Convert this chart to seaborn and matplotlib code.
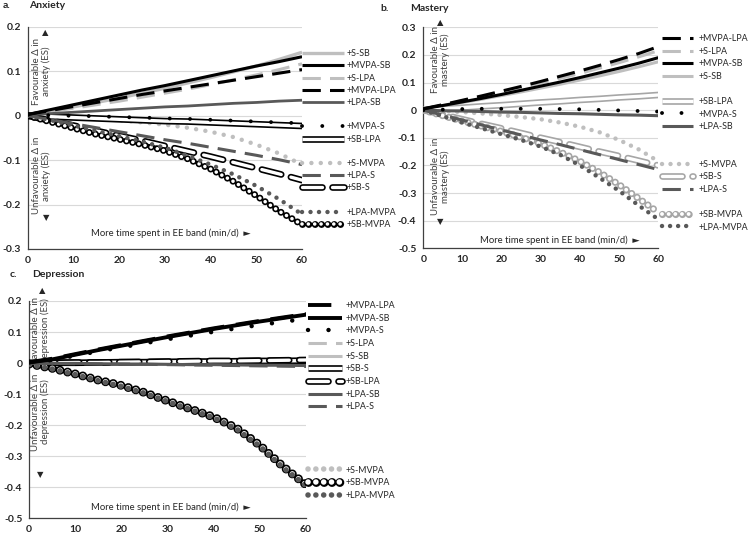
import matplotlib
matplotlib.use("Agg")
import matplotlib.pyplot as plt
import matplotlib.patheffects as pe
from matplotlib.lines import Line2D
import seaborn as sns

# minutes added to each EE band
minutes = [0, 5, 10, 15, 20, 25, 30, 35, 40, 45, 50, 55, 60]

# a. anxiety (ES)
anxiety = {
    "+S-SB":     [0.003, 0.011, 0.020, 0.030, 0.040, 0.051, 0.062, 0.074, 0.086, 0.099, 0.112, 0.127, 0.143],
    "+MVPA-SB":  [0.003, 0.014, 0.025, 0.036, 0.047, 0.058, 0.068, 0.079, 0.090, 0.101, 0.112, 0.122, 0.133],
    "+S-LPA":    [0.003, 0.010, 0.017, 0.025, 0.033, 0.042, 0.051, 0.060, 0.070, 0.081, 0.092, 0.104, 0.117],
    "+MVPA-LPA": [0.003, 0.012, 0.021, 0.030, 0.039, 0.048, 0.056, 0.064, 0.072, 0.080, 0.088, 0.096, 0.104],
    "+LPA-SB":   [0.002, 0.005, 0.008, 0.011, 0.014, 0.017, 0.020, 0.022, 0.025, 0.028, 0.030, 0.033, 0.035],
    "+MVPA-S":   [0.002, 0.001, 0.000, -0.001, -0.003, -0.004, -0.006, -0.007, -0.009, -0.011, -0.013, -0.015, -0.017],
    "+SB-LPA":   [0.000, -0.002, -0.004, -0.006, -0.008, -0.010, -0.012, -0.013, -0.015, -0.017, -0.019, -0.021, -0.023],
    "+S-MVPA":   [0.000, -0.001, -0.003, -0.006, -0.010, -0.015, -0.020, -0.027, -0.036, -0.048, -0.065, -0.085, -0.110],
    "+LPA-S":    [0.000, -0.009, -0.018, -0.027, -0.036, -0.045, -0.054, -0.062, -0.071, -0.080, -0.089, -0.099, -0.110],
    "+SB-S":     [0.000, -0.011, -0.022, -0.034, -0.045, -0.056, -0.068, -0.080, -0.092, -0.105, -0.118, -0.131, -0.145],
    "+LPA-MVPA": [0.000, -0.010, -0.022, -0.034, -0.046, -0.058, -0.072, -0.090, -0.110, -0.132, -0.158, -0.188, -0.222],
    "+SB-MVPA":  [0.000, -0.014, -0.028, -0.042, -0.053, -0.065, -0.079, -0.097, -0.120, -0.148, -0.180, -0.215, -0.245],
}

# b. mastery (ES)
mastery = {
    "+MVPA-LPA": [0.005, 0.020, 0.036, 0.052, 0.069, 0.086, 0.104, 0.123, 0.142, 0.162, 0.183, 0.205, 0.230],
    "+S-LPA":    [0.005, 0.019, 0.034, 0.049, 0.065, 0.081, 0.098, 0.115, 0.133, 0.152, 0.172, 0.193, 0.215],
    "+MVPA-SB":  [0.005, 0.017, 0.030, 0.043, 0.057, 0.072, 0.087, 0.102, 0.118, 0.135, 0.152, 0.170, 0.190],
    "+S-SB":     [0.005, 0.016, 0.028, 0.040, 0.053, 0.066, 0.080, 0.094, 0.109, 0.124, 0.140, 0.157, 0.175],
    "+SB-LPA":   [0.000, 0.005, 0.009, 0.014, 0.018, 0.023, 0.028, 0.032, 0.037, 0.041, 0.046, 0.050, 0.055],
    "+MVPA-S":   [0.000, 0.002, 0.004, 0.005, 0.005, 0.005, 0.005, 0.004, 0.003, 0.001, -0.001, -0.003, -0.005],
    "+LPA-SB":   [0.000, -0.002, -0.003, -0.005, -0.007, -0.008, -0.010, -0.012, -0.013, -0.015, -0.017, -0.018, -0.020],
    "+S-MVPA":   [0.000, -0.003, -0.007, -0.012, -0.018, -0.025, -0.033, -0.045, -0.060, -0.080, -0.108, -0.142, -0.185],
    "+SB-S":     [0.000, -0.016, -0.033, -0.050, -0.066, -0.083, -0.100, -0.116, -0.133, -0.150, -0.166, -0.183, -0.200],
    "+LPA-S":    [0.000, -0.018, -0.036, -0.054, -0.072, -0.090, -0.108, -0.125, -0.143, -0.161, -0.179, -0.197, -0.215],
    "+SB-MVPA":  [0.000, -0.020, -0.040, -0.058, -0.077, -0.098, -0.122, -0.152, -0.185, -0.225, -0.270, -0.320, -0.370],
    "+LPA-MVPA": [0.000, -0.022, -0.045, -0.066, -0.087, -0.108, -0.132, -0.162, -0.200, -0.245, -0.292, -0.345, -0.395],
}

# c. depression (ES)
depression = {
    "+MVPA-LPA": [0.003, 0.014, 0.029, 0.044, 0.058, 0.072, 0.086, 0.099, 0.112, 0.124, 0.136, 0.147, 0.158],
    "+MVPA-SB":  [0.002, 0.012, 0.027, 0.042, 0.056, 0.070, 0.084, 0.097, 0.110, 0.122, 0.134, 0.145, 0.156],
    "+MVPA-S":   [0.002, 0.010, 0.024, 0.038, 0.051, 0.064, 0.077, 0.089, 0.101, 0.112, 0.123, 0.133, 0.143],
    "+S-LPA":    [0.000, 0.000, 0.001, 0.001, 0.002, 0.002, 0.003, 0.003, 0.004, 0.004, 0.005, 0.005, 0.006],
    "+S-SB":     [0.000, 0.001, 0.001, 0.002, 0.002, 0.003, 0.003, 0.004, 0.004, 0.005, 0.005, 0.006, 0.006],
    "+SB-S":     [0.000, 0.001, 0.001, 0.002, 0.003, 0.003, 0.004, 0.005, 0.005, 0.006, 0.007, 0.007, 0.008],
    "+SB-LPA":   [0.000, 0.001, 0.002, 0.002, 0.003, 0.004, 0.005, 0.006, 0.007, 0.007, 0.008, 0.009, 0.010],
    "+LPA-SB":   [0.000, -0.001, -0.001, -0.002, -0.003, -0.003, -0.004, -0.005, -0.005, -0.006, -0.007, -0.007, -0.008],
    "+LPA-S":    [0.000, -0.001, -0.002, -0.003, -0.003, -0.004, -0.005, -0.006, -0.007, -0.008, -0.009, -0.010, -0.011],
    "+S-MVPA":   [-0.003, -0.016, -0.034, -0.053, -0.071, -0.093, -0.120, -0.146, -0.172, -0.208, -0.263, -0.331, -0.390],
    "+SB-MVPA":  [-0.003, -0.017, -0.035, -0.055, -0.072, -0.095, -0.122, -0.148, -0.174, -0.210, -0.265, -0.333, -0.392],
    "+LPA-MVPA": [-0.005, -0.019, -0.037, -0.057, -0.075, -0.097, -0.124, -0.150, -0.176, -0.213, -0.268, -0.336, -0.395],
}

# legend order (None = empty row)
anxiety_order = ["+S-SB", "+MVPA-SB", "+S-LPA", "+MVPA-LPA", "+LPA-SB", None, "+MVPA-S", "+SB-LPA", None,
                 "+S-MVPA", "+LPA-S", "+SB-S", None, "+LPA-MVPA", "+SB-MVPA"]
mastery_order = ["+MVPA-LPA", "+S-LPA", "+MVPA-SB", "+S-SB", None, "+SB-LPA", "+MVPA-S", "+LPA-SB", None, None,
                 "+S-MVPA", "+SB-S", "+LPA-S", None, "+SB-MVPA", "+LPA-MVPA"]
depression_order = ["+MVPA-LPA", "+MVPA-SB", "+MVPA-S", "+S-LPA", "+S-SB", "+SB-S", "+SB-LPA", "+LPA-SB", "+LPA-S",
                    None, None, None, None, "+S-MVPA", "+SB-MVPA", "+LPA-MVPA"]

LG, DG, K = "#bfbfbf", "#595959", "black"

# (kind, colour, width, gap) ; hollow kinds use colour as edge
style_a = {
    "+S-SB": ("solid", LG, 2.4, 0), "+MVPA-SB": ("solid", K, 2.2, 0),
    "+S-LPA": ("dash", LG, 2.2, 0), "+MVPA-LPA": ("dash", K, 2.2, 0),
    "+LPA-SB": ("solid", DG, 2.0, 0), "+MVPA-S": ("dot", K, 2.8, 5.2),
    "+SB-LPA": ("hollow", K, 2.4, 0), "+S-MVPA": ("dot", LG, 3.2, 2.1),
    "+LPA-S": ("dash", DG, 2.2, 0), "+SB-S": ("hollowdash", K, 2.4, 0),
    "+LPA-MVPA": ("dot", DG, 3.2, 1.9), "+SB-MVPA": ("hollowdot", K, 2.6, 1.75),
}
style_b = {
    "+MVPA-LPA": ("dash", K, 2.2, 0), "+S-LPA": ("dash", LG, 2.2, 0),
    "+MVPA-SB": ("solid", K, 2.2, 0), "+S-SB": ("solid", LG, 2.2, 0),
    "+SB-LPA": ("hollow", "#a6a6a6", 2.4, 0), "+MVPA-S": ("dot", K, 2.8, 5.0),
    "+LPA-SB": ("solid", DG, 2.2, 0), "+S-MVPA": ("dot", LG, 3.2, 1.9),
    "+SB-S": ("hollowdash", "#a6a6a6", 2.4, 0), "+LPA-S": ("dash", DG, 2.2, 0),
    "+SB-MVPA": ("hollowdot", "#a6a6a6", 2.8, 1.7), "+LPA-MVPA": ("dot", DG, 3.2, 1.8),
}
style_c = {
    "+MVPA-LPA": ("dash", K, 2.8, 0), "+MVPA-SB": ("solid", K, 2.8, 0),
    "+MVPA-S": ("dot", K, 3.2, 4.6), "+S-LPA": ("dash", LG, 2.2, 0),
    "+S-SB": ("solid", LG, 2.2, 0), "+SB-S": ("hollow", K, 2.4, 0),
    "+SB-LPA": ("hollowdash", K, 2.4, 0), "+LPA-SB": ("solid", DG, 2.2, 0),
    "+LPA-S": ("dash", DG, 2.2, 0), "+S-MVPA": ("dot", LG, 4.0, 1.4),
    "+SB-MVPA": ("hollowdot", K, 4.0, 1.4), "+LPA-MVPA": ("dot", DG, 4.0, 1.4),
}


def line_kwargs(kind, col, lw, gap):
    kw = dict(linewidth=lw, color=col, solid_capstyle="butt", dash_capstyle="butt")
    if kind in ("dash", "hollowdash"):
        kw["linestyle"] = (0, (6, 3))
    elif kind in ("dot", "hollowdot"):
        kw["linestyle"] = (0, (0.01, gap))
        kw["dash_capstyle"] = "round"
    else:
        kw["linestyle"] = "-"
    if kind.startswith("hollow"):
        kw["color"] = "white"
        kw["path_effects"] = [pe.Stroke(linewidth=lw + 2.4, foreground=col), pe.Normal()]
        if kind == "hollowdash":
            kw["dash_capstyle"] = "round"
    zo = {LG: 2, DG: 4, K: 5}.get(col, 3)
    if kind.startswith("hollow"):
        zo = 3
    kw["zorder"] = zo
    return kw


sns.set_theme(style="white")
plt.rcParams["font.family"] = ["Lato", "DejaVu Sans"]

fig = plt.figure(figsize=(7.5, 5.35), dpi=100)

# rect, ylim, word, legend (x, y, handle length, text pad, row spacing),
# notes (x, fav y, unfav y, up-arrow x/y, down-arrow x/y, footer x/y)
panels = [
    (anxiety, style_a, anxiety_order, [0.0373, 0.5346, 0.3654, 0.4150], (-0.3, 0.2), "anxiety",
     (0.4027, 0.908, 4.7, 0.35, 0.36),
     (0.051, 0.80, 0.33, 0.062, 0.975, 0.066, 0.14, 0.52, 0.072)),
    (mastery, style_b, mastery_order, [0.5644, 0.5359, 0.3133, 0.4131], (-0.5, 0.3), "mastery",
     (0.8827, 0.936, 3.5, 0.6, 0.40),
     (0.072, 0.855, 0.326, 0.072, 1.02, 0.072, 0.12, 0.583, 0.036)),
    (depression, style_c, depression_order, [0.0390, 0.0312, 0.3690, 0.4062], (-0.5, 0.2), "depression",
     (0.4107, 0.437, 3.8, 0.45, 0.41),
     (0.042, 0.865, 0.49, 0.047, 1.05, 0.04, 0.2, 0.51, 0.05)),
]

for data, style, order, rect, ylim, word, leg, notes in panels:
    ax = fig.add_axes(rect)
    lines = {}
    for name, vals in data.items():
        sns.lineplot(x=minutes, y=vals, ax=ax, legend=False, **line_kwargs(*style[name]))
        lines[name] = ax.lines[-1]
    ax.set_xlim(0, 60)
    ax.set_ylim(*ylim)
    ax.set_xticks(range(0, 61, 10))
    ax.set_yticks([round(v, 1) for v in
                   [ylim[0] + 0.1 * i for i in range(int(round((ylim[1] - ylim[0]) / 0.1)) + 1)]])
    ax.yaxis.set_major_formatter(plt.FuncFormatter(lambda v, p: "0" if abs(v) < 1e-9 else f"{v:.1f}"))
    ax.grid(axis="y", color="#d9d9d9", linewidth=0.8)
    ax.set_axisbelow(True)
    for s in ["top", "right"]:
        ax.spines[s].set_visible(False)
    for s in ["left", "bottom"]:
        ax.spines[s].set_color("#404040")
        ax.spines[s].set_linewidth(0.9)
    ax.tick_params(length=0, labelsize=7.5, pad=5)
    for t in ax.get_xticklabels() + ax.get_yticklabels():
        t.set_fontweight("bold")
    ax.set_xlabel("")
    ax.set_ylabel("")

    # direction notes
    nx, fy, uy, ax1, ay1, ax2, ay2, fx, fy2 = notes
    ax.text(nx, fy, f"Favourable Δ in\n{word} (ES)", transform=ax.transAxes, rotation=90,
            ha="center", va="center", fontsize=7, color="#404040", linespacing=1.05)
    ax.text(nx, uy, f"Unfavourable Δ in\n{word} (ES)", transform=ax.transAxes, rotation=90,
            ha="center", va="center", fontsize=7, color="#404040", linespacing=1.05)
    ax.text(ax1, ay1, "▲", transform=ax.transAxes, ha="center", va="center", fontsize=6, clip_on=False)
    ax.text(ax2, ay2, "▼", transform=ax.transAxes, ha="center", va="center", fontsize=6)
    ax.text(fx, fy2, "More time spent in EE band (min/d)  ►", transform=ax.transAxes,
            ha="center", va="center", fontsize=6.8, color="#262626")

    handles = [lines[n] if n else Line2D([], [], color="none") for n in order]
    labels = [n if n else " " for n in order]
    lx, ly, hl, tp, sp = leg
    ax.legend(handles, labels, loc="upper left", bbox_to_anchor=(lx, ly), bbox_transform=fig.transFigure,
              frameon=False, borderpad=0, borderaxespad=0, handlelength=hl, handletextpad=tp,
              labelspacing=sp, fontsize=6.4)

fig.text(0.003, 0.99, "a.", fontsize=7.5, fontweight="bold", va="center")
fig.text(0.039, 0.99, "Anxiety", fontsize=7.5, fontweight="bold", va="center")
fig.text(0.507, 0.985, "b.", fontsize=7.5, fontweight="bold", va="center")
fig.text(0.547, 0.985, "Mastery", fontsize=7.5, fontweight="bold", va="center")
fig.text(0.013, 0.486, "c.", fontsize=7.5, fontweight="bold", va="center")
fig.text(0.043, 0.486, "Depression", fontsize=7.5, fontweight="bold", va="center")

fig.savefig("out.png", dpi=100)
